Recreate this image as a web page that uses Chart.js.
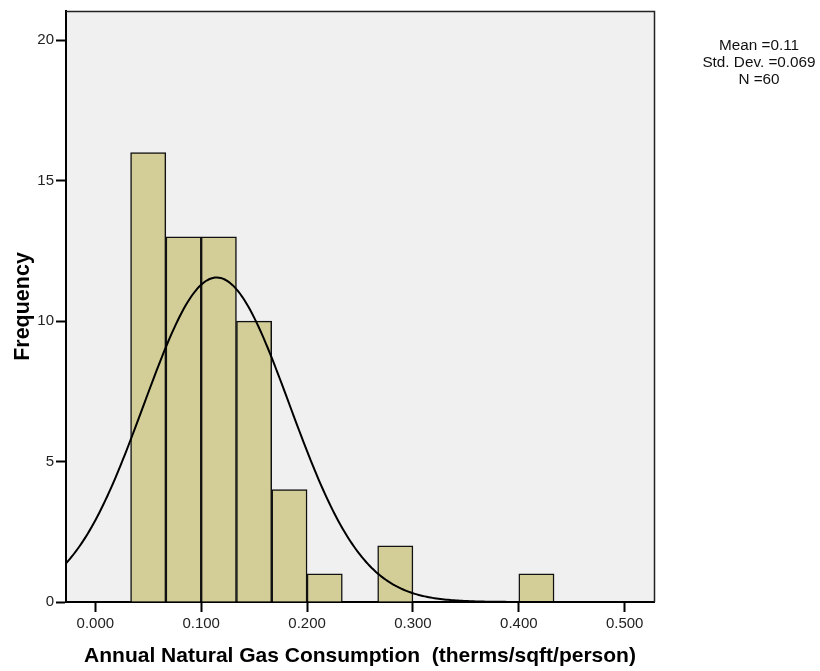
<!DOCTYPE html>
<html>
<head>
<meta charset="utf-8">
<script src="https://cdn.jsdelivr.net/npm/chart.js@4.4.1/dist/chart.umd.min.js"></script>
<style>
  html, body { margin: 0; padding: 0; background: #ffffff; }
  #wrap { width: 820px; height: 671px; }
</style>
</head>
<body>
<div id="wrap"><canvas id="chart" width="820" height="671"></canvas></div>
<script>
// Histogram bins (lower edges) and their counts
const binWidth = 0.0333;
const binStarts = [0.0333, 0.0667, 0.1000, 0.1333, 0.1667, 0.2000, 0.2333, 0.2667, 0.3000, 0.3333, 0.3667, 0.4000];
const frequencies = [16, 13, 13, 10, 4, 1, 0, 2, 0, 0, 0, 1];

// Summary statistics shown in the side note and used for the normal curve
const meanValue = 0.1146;
const stdDev = 0.069;
const sampleSize = 60;

// Axis ticks and ranges
const xTickValues = [0.0, 0.1, 0.2, 0.3, 0.4, 0.5];
const yTickValues = [0, 5, 10, 15, 20];
const xRange = [-0.0277, 0.5277];
const yRange = [0, 21.04];

const xTitle = 'Annual Natural Gas Consumption  (therms/sqft/person)';
const yTitle = 'Frequency';
const statLines = [
  'Mean =' + meanValue.toFixed(2),
  'Std. Dev. =' + stdDev.toFixed(3),
  'N =' + sampleSize
];

const FONT = '"Liberation Sans", Arial, Helvetica, sans-serif';

// Bars centred on each bin
const barData = frequencies.map((f, i) => ({ x: binStarts[i] + binWidth / 2, y: f > 0 ? f : null }));

// Fitted normal curve scaled to counts per bin
const curveData = [];
const steps = 300;
for (let i = 0; i <= steps; i++) {
  const x = xRange[0] + (xRange[1] - xRange[0]) * i / steps;
  const z = (x - meanValue) / stdDev;
  const y = sampleSize * binWidth * Math.exp(-0.5 * z * z) / (stdDev * Math.sqrt(2 * Math.PI));
  curveData.push({ x: x, y: y });
}

const framePlugin = {
  id: 'frame',
  beforeDraw(chart) {
    const { ctx, chartArea: a } = chart;
    ctx.save();
    ctx.fillStyle = '#f0f0f0';
    ctx.fillRect(a.left, a.top, a.right - a.left, a.bottom - a.top);
    ctx.restore();
  },
  afterDraw(chart) {
    const { ctx, chartArea: a } = chart;
    ctx.save();
    // top and right edges of the plot frame
    ctx.strokeStyle = '#222222';
    ctx.lineWidth = 1.5;
    ctx.beginPath();
    ctx.moveTo(a.left, a.top + 0.5);
    ctx.lineTo(a.right + 0.5, a.top + 0.5);
    ctx.lineTo(a.right + 0.5, a.bottom);
    ctx.stroke();

    // axis titles
    ctx.fillStyle = '#000000';
    ctx.font = 'bold 21px ' + FONT;
    ctx.textAlign = 'center';
    ctx.textBaseline = 'middle';
    ctx.fillText(xTitle, (a.left + a.right) / 2, 656);
    ctx.save();
    ctx.translate(23, (a.top + a.bottom) / 2);
    ctx.rotate(-Math.PI / 2);
    ctx.font = 'bold 21.5px ' + FONT;
    ctx.fillText(yTitle, 0, 0);
    ctx.restore();

    // statistics note
    ctx.font = '15.3px ' + FONT;
    ctx.fillStyle = '#111111';
    const lineY = [45.5, 62.5, 79.5];
    statLines.forEach((t, i) => ctx.fillText(t, 759, lineY[i]));
    ctx.restore();
  }
};

new Chart(document.getElementById('chart'), {
  type: 'bar',
  data: {
    datasets: [
      {
        type: 'line',
        data: curveData,
        borderColor: '#000000',
        borderWidth: 2,
        pointRadius: 0,
        tension: 0,
        fill: false,
        order: 0
      },
      {
        type: 'bar',
        data: barData,
        backgroundColor: '#d3ce98',
        borderColor: '#111111',
        borderWidth: 1.5,
        barPercentage: 1.0,
        categoryPercentage: 1.0,
        order: 1
      }
    ]
  },
  options: {
    responsive: false,
    devicePixelRatio: 1,
    animation: false,
    layout: { padding: { left: 0, top: 9, right: 166, bottom: 0 } },
    plugins: {
      legend: { display: false },
      tooltip: { enabled: false }
    },
    scales: {
      x: {
        type: 'linear',
        offset: false,
        min: xRange[0],
        max: xRange[1],
        afterBuildTicks(scale) { scale.ticks = xTickValues.map(v => ({ value: v })); },
        afterFit(scale) { scale.height = 69; },
        ticks: {
          color: '#222222',
          font: { family: FONT, size: 15 },
          padding: 3,
          maxRotation: 0,
          autoSkip: false,
          callback: v => Number(v).toFixed(3)
        },
        grid: {
          offset: false,
          drawOnChartArea: false,
          drawTicks: true,
          tickLength: 10,
          tickWidth: 2,
          tickColor: '#000000'
        },
        border: { display: true, color: '#000000', width: 2 }
      },
      y: {
        type: 'linear',
        min: yRange[0],
        max: yRange[1],
        afterBuildTicks(scale) { scale.ticks = yTickValues.map(v => ({ value: v })); },
        afterFit(scale) { scale.width = 66; },
        ticks: {
          color: '#222222',
          font: { family: FONT, size: 15 },
          padding: 2,
          autoSkip: false,
          callback: v => String(v)
        },
        grid: {
          drawOnChartArea: false,
          drawTicks: true,
          tickLength: 10,
          tickWidth: 2,
          tickColor: '#000000'
        },
        border: { display: true, color: '#000000', width: 2 }
      }
    }
  },
  plugins: [framePlugin]
});
</script>
</body>
</html>
